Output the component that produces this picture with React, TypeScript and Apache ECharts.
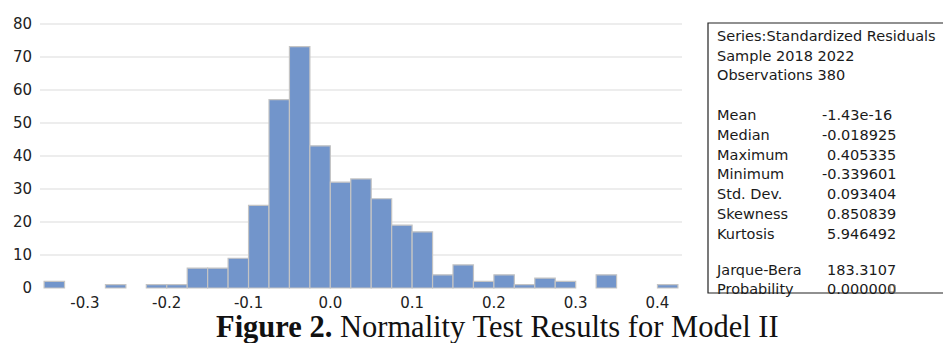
import React, { useEffect, useRef } from "react";
import * as echarts from "echarts";

const binStarts = [
  -0.35, -0.325, -0.3, -0.275, -0.25, -0.225, -0.2, -0.175, -0.15, -0.125, -0.1,
  -0.075, -0.05, -0.025, 0, 0.025, 0.05, 0.075, 0.1, 0.125, 0.15, 0.175, 0.2,
  0.225, 0.25, 0.275, 0.3, 0.325, 0.35, 0.375, 0.4,
];
const counts = [
  2, 0, 0, 1, 0, 1, 1, 6, 6, 9, 25, 57, 73, 43, 32, 33, 27, 19, 17, 4, 7, 2, 4,
  1, 3, 2, 0, 4, 0, 0, 1,
];
const binWidth = 0.025;
const xTickLabels = [-0.3, -0.2, -0.1, 0.0, 0.1, 0.2, 0.3, 0.4];

const statHeader = [
  "Series:Standardized Residuals",
  "Sample 2018 2022",
  "Observations 380",
];
const statNames = ["Mean", "Median", "Maximum", "Minimum", "Std. Dev.", "Skewness", "Kurtosis"];
const statValues = ["-1.43e-16", "-0.018925", "0.405335", "-0.339601", "0.093404", "0.850839", "5.946492"];
const testNames = ["Jarque-Bera", "Probability"];
const testValues = ["183.3107", "0.000000"];

export default function App() {
  const ref = useRef<HTMLDivElement>(null);
  useEffect(() => {
    if (!ref.current) return;
    const chart = echarts.init(ref.current, null, { renderer: "svg" });
    const data = binStarts.map((s, i) => [s, s + binWidth, counts[i]]);

    const boxFont = { fontFamily: "DejaVu Sans", fontSize: 14.5, fill: "#1a1a1a", verticalAlign: "middle" };
    const texts: any[] = [];
    statHeader.forEach((t, i) =>
      texts.push({ type: "text", x: 717, y: 36 + i * 19.6, style: { ...boxFont, text: t } })
    );
    statNames.forEach((t, i) => {
      const y = 115 + i * 19.8;
      texts.push({ type: "text", x: 717, y, style: { ...boxFont, text: t } });
      const v = statValues[i];
      texts.push({
        type: "text",
        x: v.startsWith("-") ? 822 : 827,
        y,
        style: { ...boxFont, text: v },
      });
    });
    testNames.forEach((t, i) => {
      const y = 270 + i * 19;
      texts.push({ type: "text", x: 717, y, style: { ...boxFont, text: t } });
      texts.push({ type: "text", x: 827, y, style: { ...boxFont, text: testValues[i] } });
    });

    chart.setOption({
      animation: false,
      grid: { left: 40, right: 261, top: 23.5, bottom: 55 },
      xAxis: {
        type: "value",
        min: -0.355,
        max: 0.43,
        axisLine: { show: false },
        axisTick: { show: false },
        splitLine: { show: false },
        axisLabel: {
          customValues: xTickLabels,
          formatter: (v: number) => v.toFixed(1),
          fontFamily: "DejaVu Sans",
          fontSize: 15,
          color: "#222",
          margin: 7,
        },
      },
      yAxis: {
        type: "value",
        min: 0,
        max: 80,
        interval: 10,
        axisLine: { show: false },
        axisTick: { show: false },
        axisLabel: { fontFamily: "DejaVu Sans", fontSize: 15, color: "#222", margin: 8 },
        splitLine: {
          lineStyle: {
            color: ["rgba(0,0,0,0)", "#e7e7e7", "#e7e7e7", "#e7e7e7", "#e7e7e7", "#e7e7e7", "#e7e7e7", "#e7e7e7", "#e7e7e7"],
            width: 1.5,
          },
        },
      },
      series: [
        {
          type: "custom",
          data,
          renderItem: (params: any, api: any) => {
            const h = api.value(2);
            if (!h) return null;
            const p0 = api.coord([api.value(0), 0]);
            const p1 = api.coord([api.value(1), h]);
            return {
              type: "rect",
              shape: { x: p0[0], y: p1[1], width: p1[0] - p0[0], height: p0[1] - p1[1] },
              style: { fill: "#7295CB", stroke: "#C4C4C4", lineWidth: 1.2 },
            };
          },
        },
      ],
      graphic: [
        {
          type: "rect",
          shape: { x: 708, y: 23, width: 260, height: 270 },
          style: { fill: "none", stroke: "#222", lineWidth: 1.2 },
        },
        ...texts,
        {
          type: "rect",
          shape: { x: 890, y: 285, width: 5, height: 7 },
          style: { fill: "none", stroke: "#666", lineWidth: 0.8 },
        },
        {
          type: "text",
          x: 216,
          y: 327,
          style: {
            text: "{b|Figure 2.} Normality Test Results for Model II",
            fontFamily: "Liberation Serif",
            fontSize: 30.5,
            lineHeight: 24,
            fill: "#111",
            verticalAlign: "middle",
            rich: {
              b: { fontFamily: "Liberation Serif", fontSize: 30.5, lineHeight: 24, fontWeight: "bold", fill: "#111" },
            },
          },
        },
      ],
    });
    return () => chart.dispose();
  }, []);
  return (
    <div
      ref={ref}
      style={{ position: "absolute", left: 0, top: 0, width: 943, height: 343, background: "#fff" }}
    />
  );
}
